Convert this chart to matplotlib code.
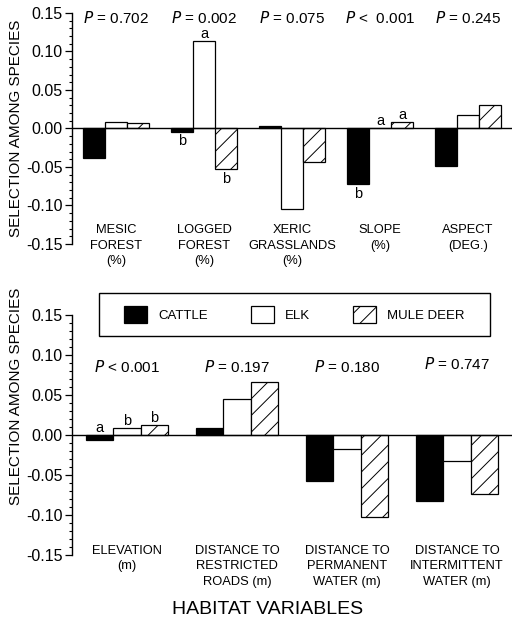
import numpy as np
import matplotlib
matplotlib.use("Agg")
import matplotlib.pyplot as plt
from matplotlib.ticker import MultipleLocator, FormatStrFormatter
from matplotlib.patches import Patch, Rectangle

plt.rcParams['font.family'] = ['Liberation Sans', 'DejaVu Sans']
plt.rcParams['hatch.linewidth'] = 0.7

species = ['CATTLE', 'ELK', 'MULE DEER']

# top panel
top_cats = ['MESIC\nFOREST\n(%)', 'LOGGED\nFOREST\n(%)', 'XERIC\nGRASSLANDS\n(%)', 'SLOPE\n(%)', 'ASPECT\n(DEG.)']
top_cattle = [-0.038, -0.004, 0.003, -0.072, -0.049]
top_elk = [0.009, 0.114, -0.104, 0.0, 0.018]
top_deer = [0.007, -0.053, -0.043, 0.008, 0.031]
top_p = ['= 0.702', '= 0.002', '= 0.075', '<  0.001', '= 0.245']
top_letters = [None, ['b', 'a', 'b'], None, ['b', 'a', 'a'], None]
top_letter_side = [None, ['down', 'up', 'down'], None, ['down', 'up', 'up'], None]

# bottom panel
bot_cats = ['ELEVATION\n(m)', 'DISTANCE TO\nRESTRICTED\nROADS (m)', 'DISTANCE TO\nPERMANENT\nWATER (m)', 'DISTANCE TO\nINTERMITTENT\nWATER (m)']
bot_cattle = [-0.006, 0.009, -0.057, -0.083]
bot_elk = [0.009, 0.045, -0.017, -0.033]
bot_deer = [0.012, 0.066, -0.102, -0.074]
bot_p = ['< 0.001', '= 0.197', '= 0.180', '= 0.747']
bot_letters = [['a', 'b', 'b'], None, None, None]
bot_letter_side = [['up', 'up', 'up'], None, None, None]

styles = [dict(color='black', edgecolor='black'),
          dict(color='white', edgecolor='black'),
          dict(color='white', edgecolor='black', hatch='//')]

fig = plt.figure(figsize=(5.12, 6.2), dpi=100)
ax1 = fig.add_axes([0.1406, 0.6065, 0.8594, 0.3726])
ax2 = fig.add_axes([0.1406, 0.1048, 0.8594, 0.387])


def draw(ax, cats, series, pvals, letters, sides, p_y, label_y):
    x = np.arange(len(cats))
    w = 0.25
    for k, vals in enumerate(series):
        ax.bar(x + (k - 1) * w, vals, w, linewidth=0.9, **styles[k])
    ax.axhline(0, color='black', lw=1.0, zorder=5)
    ax.set_xlim(-0.5, len(cats) - 0.5)
    ax.set_ylim(-0.15, 0.15)
    for s in ['top', 'right', 'bottom']:
        ax.spines[s].set_visible(False)
    ax.spines['left'].set_linewidth(1.0)
    ax.set_xticks([])
    ax.yaxis.set_major_locator(MultipleLocator(0.05))
    ax.yaxis.set_minor_locator(MultipleLocator(0.01))
    ax.yaxis.set_major_formatter(FormatStrFormatter('%.2f'))
    ax.tick_params(axis='y', which='major', length=5, width=0.9, labelsize=11.5, pad=2)
    ax.tick_params(axis='y', which='minor', length=2.5, width=0.8)
    ax.set_ylabel('SELECTION AMONG SPECIES', fontsize=11, labelpad=2)
    for i, c in enumerate(cats):
        ax.text(x[i], p_y[i], r'$\it{P}$ ' + pvals[i], ha='center', va='center', fontsize=11)
        ax.text(x[i], label_y, c, ha='center', va='top', fontsize=9.3, linespacing=1.4)
        if letters[i]:
            for k, vals in enumerate(series):
                v = vals[i]
                if sides[i][k] == 'up':
                    ax.annotate(letters[i][k], (x[i] + (k - 1) * w, max(v, 0)), xytext=(0, 0),
                                textcoords='offset points', ha='center', va='bottom', fontsize=10.5)
                else:
                    ax.annotate(letters[i][k], (x[i] + (k - 1) * w, min(v, 0)), xytext=(0, -2),
                                textcoords='offset points', ha='center', va='top', fontsize=10.5)


draw(ax1, top_cats, [top_cattle, top_elk, top_deer], top_p, top_letters, top_letter_side,
     [0.1435] * 5, -0.124)
draw(ax2, bot_cats, [bot_cattle, bot_elk, bot_deer], bot_p, bot_letters, bot_letter_side,
     [0.085, 0.085, 0.085, 0.089], -0.137)
ax2.yaxis.label.set_position((0, 0.66))

handles = [Patch(facecolor=styles[k]['color'], edgecolor='black', hatch=styles[k].get('hatch'), linewidth=0.9)
           for k in range(3)]
fig.patches.append(Rectangle((0.1934, 0.4581), 0.7637, 0.0694, transform=fig.transFigure,
                             fill=False, edgecolor='black', linewidth=1.0))
fig.legend(handles, species, loc='center', bbox_to_anchor=(0.575, 0.4927), ncol=3,
           fontsize=9.5, frameon=False,
           handlelength=1.7, handleheight=1.6, handletextpad=0.85, columnspacing=3.3)

fig.text(0.522, 0.003, 'HABITAT VARIABLES', ha='center', va='bottom', fontsize=14)

fig.savefig('out.png', dpi=100)
